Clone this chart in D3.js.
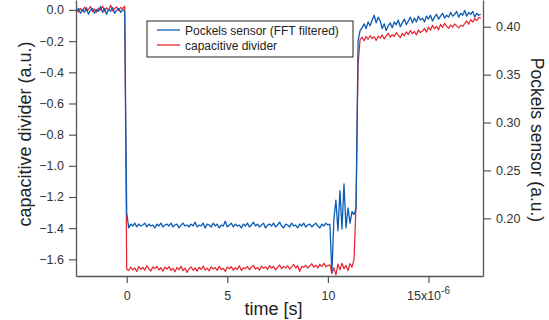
<!DOCTYPE html>
<html>
<head>
<meta charset="utf-8">
<script src="https://cdn.jsdelivr.net/npm/d3@7"></script>
<style>
  body { margin: 0; background: #fff; }
  svg { display: block; font-family: "Liberation Sans", Arial, sans-serif; }
</style>
</head>
<body>
<div class="svg-chart"></div>
<script>
// sampling of the scope traces (microseconds)
const t0 = -2.5;
const dt = 0.1;

// capacitive divider (left axis, a.u.)
const capDivider = [
  0.004, -0.012, 0.010, -0.006, 0.018, -0.004, 0.002, 0.022, -0.010, 0.006,
  -0.014, 0.012, 0.000, 0.026, -0.008, 0.014, -0.002, 0.030, -0.006, 0.010,
  0.020, -0.004, 0.016, 0.008, 0.024,
  -1.662,
  -1.672, -1.650, -1.668, -1.655, -1.678, -1.646, -1.664, -1.652, -1.670, -1.641,
  -1.662, -1.675, -1.648, -1.660, -1.645, -1.668, -1.654, -1.676, -1.650, -1.663,
  -1.647, -1.671, -1.658, -1.680, -1.652, -1.666, -1.644, -1.673, -1.656, -1.684,
  -1.660, -1.649, -1.670, -1.655, -1.676, -1.651, -1.665, -1.643, -1.669, -1.657,
  -1.674, -1.648, -1.662, -1.653, -1.671, -1.645, -1.666, -1.658, -1.677, -1.650,
  -1.661, -1.647, -1.669, -1.654, -1.664, -1.642, -1.672, -1.655, -1.660, -1.646,
  -1.667, -1.650, -1.639, -1.663, -1.652, -1.670, -1.644, -1.658, -1.648, -1.665,
  -1.640, -1.657, -1.646, -1.668, -1.651, -1.636, -1.660, -1.645, -1.655, -1.642,
  -1.662, -1.648, -1.633, -1.656, -1.641, -1.678, -1.645, -1.652, -1.638, -1.657,
  -1.643, -1.628, -1.650, -1.637, -1.655, -1.632, -1.646, -1.625, -1.648, -1.640, -1.636,
  -1.690, -1.655, -1.700, -1.630, -1.668, -1.625, -1.660, -1.640, -1.672, -1.628,
  -1.650, -1.600, -1.250,
  -0.350, -0.190,
  -0.175, -0.198, -0.170, -0.188, -0.165, -0.182, -0.172, -0.195, -0.168, -0.180,
  -0.160, -0.185, -0.166, -0.150, -0.175, -0.158, -0.170, -0.145, -0.162, -0.178,
  -0.150, -0.166, -0.140, -0.158, -0.132, -0.152, -0.138, -0.160, -0.128, -0.145,
  -0.135, -0.118, -0.142, -0.110, -0.130, -0.098, -0.122, -0.105, -0.128, -0.092,
  -0.112, -0.085, -0.104, -0.118, -0.096, -0.110, -0.090, -0.102, -0.115, -0.098,
  -0.105, -0.088, -0.070, -0.092, -0.062, -0.078, -0.055, -0.068, -0.048, -0.052
];

// Pockels sensor, FFT filtered (right axis, a.u.)
const pockels = [
  0.416, 0.419, 0.414, 0.418, 0.415, 0.420, 0.413, 0.417, 0.419, 0.414,
  0.418, 0.416, 0.421, 0.415, 0.419, 0.413, 0.418, 0.416, 0.420, 0.414,
  0.417, 0.419, 0.415, 0.418, 0.416,
  0.206,
  0.190, 0.194, 0.192, 0.195, 0.191, 0.194, 0.192, 0.193, 0.195, 0.191,
  0.194, 0.192, 0.193, 0.190, 0.194, 0.192, 0.195, 0.191, 0.193, 0.194,
  0.192, 0.195, 0.191, 0.193, 0.194, 0.190, 0.193, 0.195, 0.192, 0.193,
  0.191, 0.194, 0.192, 0.196, 0.191, 0.193, 0.192, 0.195, 0.190, 0.194,
  0.193, 0.191, 0.195, 0.192, 0.194, 0.190, 0.193, 0.192, 0.197, 0.191,
  0.193, 0.195, 0.191, 0.194, 0.192, 0.193, 0.190, 0.194, 0.192, 0.195,
  0.191, 0.193, 0.196, 0.192, 0.194, 0.191, 0.193, 0.195, 0.190, 0.193,
  0.194, 0.192, 0.195, 0.191, 0.193, 0.196, 0.192, 0.190, 0.194, 0.193,
  0.191, 0.195, 0.192, 0.193, 0.190, 0.194, 0.192, 0.195, 0.191, 0.193,
  0.194, 0.191, 0.193, 0.195, 0.192, 0.190, 0.194, 0.192, 0.195, 0.193, 0.194,
  0.143, 0.200, 0.219, 0.187, 0.229, 0.189, 0.236, 0.190, 0.211, 0.195,
  0.207, 0.204, 0.210,
  0.385, 0.396,
  0.399, 0.403, 0.398, 0.405, 0.401, 0.407, 0.412, 0.404, 0.410, 0.406,
  0.398, 0.403, 0.396, 0.401, 0.404, 0.399, 0.405, 0.402, 0.407, 0.400,
  0.404, 0.408, 0.402, 0.406, 0.410, 0.404, 0.409, 0.405, 0.411, 0.407,
  0.409, 0.405, 0.411, 0.408, 0.412, 0.406, 0.410, 0.413, 0.408, 0.411,
  0.414, 0.409, 0.412, 0.410, 0.415, 0.411, 0.413, 0.416, 0.410, 0.414,
  0.412, 0.417, 0.411, 0.415, 0.413, 0.416, 0.410, 0.414, 0.412, 0.413
];

const xTicks = [0, 5, 10, 15];
const leftTicks = [0.0, -0.2, -0.4, -0.6, -0.8, -1.0, -1.2, -1.4, -1.6];
const rightTicks = [0.20, 0.25, 0.30, 0.35, 0.40];

const seriesNames = ["Pockels sensor (FFT filtered)", "capacitive divider"];
const colors = { pockels: "#0b5db3", cap: "#e8202e" };

const width = 549, height = 320;
const margin = { top: 0, right: 66, bottom: 44, left: 76 };

const svg = d3.select(".svg-chart").append("svg")
    .attr("width", width)
    .attr("height", height);

let x = d3.scaleLinear()
    .domain([-2.52, 17.71])
    .range([margin.left, width - margin.right]);

let yLeft = d3.scaleLinear()
    .domain([-1.707, 0.064])
    .range([height - margin.bottom, margin.top]);

let yRight = d3.scaleLinear()
    .domain([0.1398, 0.4279])
    .range([height - margin.bottom, margin.top]);

const timeOf = i => t0 + i * dt;

let capLine = d3.line()
    .x((d, i) => x(timeOf(i)))
    .y(d => yLeft(d));

let pockelsLine = d3.line()
    .x((d, i) => x(timeOf(i)))
    .y(d => yRight(d));

svg.append("path")
    .datum(capDivider)
    .attr("fill", "none")
    .attr("stroke", colors.cap)
    .attr("stroke-width", 1.2)
    .attr("stroke-linejoin", "round")
    .attr("d", capLine);

svg.append("path")
    .datum(pockels)
    .attr("fill", "none")
    .attr("stroke", colors.pockels)
    .attr("stroke-width", 1.3)
    .attr("stroke-linejoin", "round")
    .attr("d", pockelsLine);

// axes
const axisColor = "#555";
const labelColor = "#333";
const tickFont = "12.5px";

let gLeft = svg.append("g")
    .attr("transform", `translate(${margin.left},0)`)
    .call(d3.axisLeft(yLeft).tickValues(leftTicks).tickSize(7).tickSizeOuter(0)
        .tickPadding(5).tickFormat(d3.format(".1f")));

let gRight = svg.append("g")
    .attr("transform", `translate(${width - margin.right},0)`)
    .call(d3.axisRight(yRight).tickValues(rightTicks).tickSize(8).tickSizeOuter(0)
        .tickPadding(5).tickFormat(d3.format(".2f")));

let gBottom = svg.append("g")
    .attr("transform", `translate(0,${height - margin.bottom})`)
    .call(d3.axisBottom(x).tickValues(xTicks).tickSize(7).tickSizeOuter(0)
        .tickPadding(8).tickFormat(d => d === 15 ? "" : d));

[gLeft, gRight, gBottom].forEach(g => {
    g.select(".domain").attr("stroke", axisColor).attr("stroke-width", 1.3);
    g.selectAll(".tick line").attr("stroke", axisColor).attr("stroke-width", 1.2);
    g.selectAll(".tick text").attr("fill", labelColor).style("font-size", tickFont);
});

// 15x10^-6 label
let lab15 = gBottom.append("text")
    .attr("x", x(15))
    .attr("y", 24)
    .attr("text-anchor", "middle")
    .attr("fill", labelColor)
    .style("font-size", tickFont);
lab15.append("tspan").text("15x10");
lab15.append("tspan").attr("dy", -6).style("font-size", "10px").text("-6");

// axis titles
svg.append("text")
    .attr("x", x(7.3))
    .attr("y", 315)
    .attr("text-anchor", "middle")
    .attr("fill", "#222")
    .style("font-size", "18px")
    .text("time [s]");

svg.append("text")
    .attr("transform", "translate(31,134) rotate(-90)")
    .attr("text-anchor", "middle")
    .attr("fill", "#222")
    .style("font-size", "18px")
    .text("capacitive divider (a.u.)");

svg.append("text")
    .attr("transform", "translate(531,140) rotate(90)")
    .attr("text-anchor", "middle")
    .attr("fill", "#222")
    .style("font-size", "17.5px")
    .text("Pockels sensor (a.u.)");

// legend
let legend = svg.append("g").attr("transform", "translate(147,21)");
legend.append("rect")
    .attr("width", 206)
    .attr("height", 36)
    .attr("fill", "#fff")
    .attr("stroke", "#222")
    .attr("stroke-width", 1);

[colors.pockels, colors.cap].forEach((c, i) => {
    legend.append("line")
        .attr("x1", 10).attr("x2", 33)
        .attr("y1", 9 + i * 15).attr("y2", 9 + i * 15)
        .attr("stroke", c)
        .attr("stroke-width", 1.3);
    legend.append("text")
        .attr("x", 38)
        .attr("y", 13.5 + i * 15)
        .attr("fill", "#222")
        .style("font-size", "12px")
        .text(seriesNames[i]);
});
</script>
</body>
</html>
